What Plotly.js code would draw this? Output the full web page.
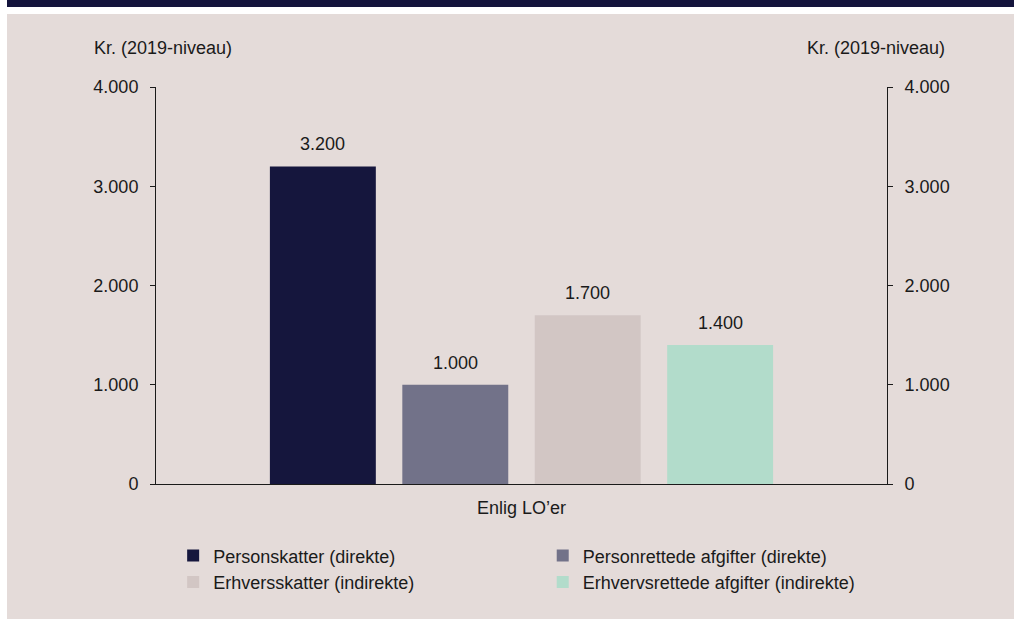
<!DOCTYPE html>
<html>
<head>
<meta charset="utf-8">
<script src="https://cdn.plot.ly/plotly-3.0.1.min.js"></script>
<style>
  html, body { margin: 0; padding: 0; background: #ffffff; width: 1014px; height: 619px; overflow: hidden; }
  #header { position: absolute; left: 7px; top: 0; width: 1007px; height: 7px; background: #14143c; }
  #panel { position: absolute; left: 7px; top: 14px; width: 1007px; height: 605px; background: #e4dbd9; }
  #chart { width: 1007px; height: 605px; }
</style>
</head>
<body>
<div id="header"></div>
<div id="panel"><div id="chart"></div></div>
<script>
// ---- data ----
const category = 'Enlig LO\u2019er';
const seriesNames = [
  'Personskatter (direkte)',
  'Personrettede afgifter (direkte)',
  'Erhversskatter (indirekte)',
  'Erhvervsrettede afgifter (indirekte)'
];
const seriesValues = [3200, 1000, 1700, 1400];
const seriesColors = ['#15163d', '#727289', '#d2c6c4', '#b2dccb'];
const legendColumn = ['legend', 'legend2', 'legend', 'legend2'];
const yTickVals = [0, 1000, 2000, 3000, 4000];
const yTickText = ['0', '1.000', '2.000', '3.000', '4.000'];
const axisTitle = 'Kr. (2019-niveau)';

function fmt(v) {
  return String(Math.round(v)).replace(/\B(?=(\d{3})+(?!\d))/g, '.');
}

const font = 'Liberation Sans, Arial, sans-serif';
const textColor = '#1a1a1a';

const traces = seriesNames.map((name, i) => ({
  type: 'bar',
  name: name,
  x: [i],
  y: [seriesValues[i]],
  width: 0.8,
  marker: { color: seriesColors[i] },
  legend: legendColumn[i],
  hoverinfo: 'skip'
}));

const annotations = seriesValues.map((v, i) => ({
  xref: 'x', yref: 'y', x: i, y: v,
  text: fmt(v), showarrow: false,
  yanchor: 'middle', yshift: 22,
  font: { family: font, size: 18, color: textColor }
}));
annotations.push({
  xref: 'paper', yref: 'paper', x: 0.0096, y: 1.098,
  xanchor: 'center', yanchor: 'middle', text: axisTitle, showarrow: false,
  font: { family: font, size: 18, color: textColor }
});
annotations.push({
  xref: 'paper', yref: 'paper', x: 0.985, y: 1.098,
  xanchor: 'center', yanchor: 'middle', text: axisTitle, showarrow: false,
  font: { family: font, size: 18, color: textColor }
});

const center = (seriesValues.length - 1) / 2;

const yaxisCommon = {
  range: [0, 4000],
  tickvals: yTickVals,
  ticktext: yTickText,
  showgrid: false,
  zeroline: false,
  showline: true,
  linecolor: '#1a1a1a',
  linewidth: 1,
  ticks: 'outside',
  ticklen: 5,
  tickwidth: 1,
  tickcolor: '#1a1a1a',
  ticklabelstandoff: 8,
  tickfont: { family: font, size: 18, color: textColor },
  fixedrange: true
};

const legendCommon = {
  orientation: 'v',
  xref: 'container', yref: 'container',
  y: 0.135,
  xanchor: 'left', yanchor: 'top',
  traceorder: 'normal',
  bgcolor: 'rgba(0,0,0,0)',
  font: { family: font, size: 18, color: textColor }
};

const layout = {
  width: 1007,
  height: 605,
  margin: { l: 149, r: 127, t: 73, b: 135, autoexpand: false },
  paper_bgcolor: 'rgba(0,0,0,0)',
  plot_bgcolor: 'rgba(0,0,0,0)',
  barmode: 'overlay',
  showlegend: true,
  xaxis: {
    range: [center - 2.76, center + 2.76],
    tickvals: [center],
    ticktext: [category],
    showgrid: false,
    zeroline: false,
    showline: true,
    linecolor: '#1a1a1a',
    linewidth: 1,
    ticks: '',
    ticklabelstandoff: 7,
    tickfont: { family: font, size: 18, color: textColor },
    fixedrange: true
  },
  yaxis: Object.assign({}, yaxisCommon, { side: 'left' }),
  yaxis2: Object.assign({}, yaxisCommon, { side: 'right', overlaying: 'y', anchor: 'x' }),
  legend: Object.assign({}, legendCommon, { x: 0.165 }),
  legend2: Object.assign({}, legendCommon, { x: 0.532 }),
  annotations: annotations
};

traces.push({
  type: 'scatter', x: [center], y: [0], yaxis: 'y2', mode: 'none',
  showlegend: false, hoverinfo: 'skip'
});

Plotly.newPlot('chart', traces, layout, { displayModeBar: false, staticPlot: true });
</script>
</body>
</html>
